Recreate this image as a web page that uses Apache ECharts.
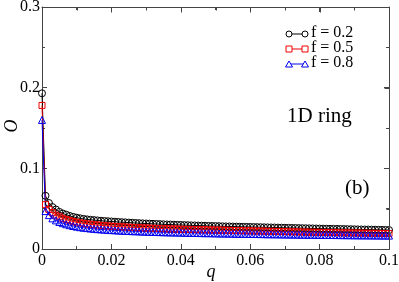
<!DOCTYPE html>
<html><head><meta charset="utf-8">
<script src="https://cdn.jsdelivr.net/npm/echarts@6/dist/echarts.min.js"></script>
<style>html,body{margin:0;padding:0;background:#fff}#c{width:399px;height:282px}</style>
</head><body><div id="c"></div>
<script>
// q values: 0 to 0.1 step 0.001
const qValues = [0,0.001,0.002,0.003,0.004,0.005,0.006,0.007,0.008,0.009,
0.010,0.011,0.012,0.013,0.014,0.015,0.016,0.017,0.018,0.019,
0.020,0.021,0.022,0.023,0.024,0.025,0.026,0.027,0.028,0.029,
0.030,0.031,0.032,0.033,0.034,0.035,0.036,0.037,0.038,0.039,
0.040,0.041,0.042,0.043,0.044,0.045,0.046,0.047,0.048,0.049,
0.050,0.051,0.052,0.053,0.054,0.055,0.056,0.057,0.058,0.059,
0.060,0.061,0.062,0.063,0.064,0.065,0.066,0.067,0.068,0.069,
0.070,0.071,0.072,0.073,0.074,0.075,0.076,0.077,0.078,0.079,
0.080,0.081,0.082,0.083,0.084,0.085,0.086,0.087,0.088,0.089,
0.090,0.091,0.092,0.093,0.094,0.095,0.096,0.097,0.098,0.099,0.100];

const f02 = [0.193,
0.066,0.057,0.052,0.049,0.046,0.044,0.0425,0.041,0.0398,0.0388,
0.0380,0.0373,0.0367,0.0362,0.0358,0.0354,0.0350,0.0347,0.0344,0.0341,
0.0338,0.0335,0.0332,0.0330,0.0327,0.0325,0.0322,0.0320,0.0318,0.0316,
0.0314,0.0312,0.0310,0.0308,0.0306,0.0304,0.0303,0.0301,0.0299,0.0298,
0.0296,0.0295,0.0293,0.0292,0.0290,0.0289,0.0288,0.0286,0.0285,0.0284,
0.0283,0.0281,0.0280,0.0279,0.0278,0.0277,0.0276,0.0275,0.0274,0.0273,
0.0272,0.0271,0.0270,0.0269,0.0268,0.0267,0.0266,0.0265,0.0264,0.0263,
0.0262,0.0261,0.0260,0.0259,0.0258,0.0257,0.0256,0.0255,0.0254,0.0253,
0.0252,0.0251,0.0250,0.0249,0.0249,0.0248,0.0247,0.0246,0.0245,0.0244,
0.0243,0.0242,0.0241,0.0241,0.0240,0.0239,0.0238,0.0237,0.0236,0.0235];

const f05 = [0.178,
0.055,0.049,0.045,0.042,0.040,0.038,0.0365,0.0352,0.0341,0.0332,
0.0324,0.0317,0.0311,0.0306,0.0301,0.0297,0.0293,0.0289,0.0286,0.0283,
0.0280,0.0277,0.0275,0.0272,0.0270,0.0268,0.0266,0.0264,0.0262,0.0260,
0.0258,0.0257,0.0255,0.0254,0.0252,0.0251,0.0249,0.0248,0.0247,0.0245,
0.0244,0.0243,0.0242,0.0241,0.0240,0.0239,0.0238,0.0237,0.0236,0.0235,
0.0234,0.0233,0.0232,0.0231,0.0230,0.0229,0.0228,0.0227,0.0226,0.0225,
0.0224,0.0223,0.0222,0.0221,0.0220,0.0219,0.0218,0.0217,0.0216,0.0215,
0.0214,0.0213,0.0212,0.0211,0.0210,0.0209,0.0208,0.0207,0.0207,0.0206,
0.0205,0.0204,0.0203,0.0203,0.0202,0.0201,0.0200,0.0199,0.0199,0.0198,
0.0197,0.0197,0.0196,0.0195,0.0195,0.0194,0.0193,0.0193,0.0192,0.0191];

const f08 = [0.160,
0.047,0.042,0.038,0.0355,0.0335,0.0320,0.0306,0.0295,0.0285,0.0277,
0.0270,0.0264,0.0259,0.0254,0.0250,0.0246,0.0243,0.0240,0.0237,0.0234,
0.0232,0.0229,0.0227,0.0225,0.0223,0.0221,0.0220,0.0218,0.0216,0.0215,
0.0213,0.0212,0.0211,0.0209,0.0208,0.0207,0.0206,0.0205,0.0204,0.0203,
0.0202,0.0201,0.0200,0.0199,0.0198,0.0197,0.0196,0.0196,0.0195,0.0194,
0.0193,0.0192,0.0192,0.0191,0.0190,0.0189,0.0189,0.0188,0.0187,0.0187,
0.0186,0.0185,0.0185,0.0184,0.0183,0.0183,0.0182,0.0182,0.0181,0.0180,
0.0180,0.0179,0.0179,0.0178,0.0178,0.0177,0.0177,0.0176,0.0176,0.0175,
0.0175,0.0174,0.0174,0.0173,0.0173,0.0172,0.0172,0.0171,0.0171,0.0170,
0.0170,0.0169,0.0169,0.0169,0.0168,0.0168,0.0167,0.0167,0.0167,0.0166];

const seriesNames = ['f = 0.2','f = 0.5','f = 0.8'];
const xTickValues = [0,0.02,0.04,0.06,0.08,0.1];
const xTickText = ['0','0.02','0.04','0.06','0.08','0.1'];
const yTickValues = [0,0.1,0.2,0.3];
const yTickText = ['0','0.1','0.2','0.3'];

const FONT = 'Liberation Serif';
const AX = '#444';
const chart = echarts.init(document.getElementById('c'), null, {renderer:'canvas'});
const pair = arr => qValues.map((q,i)=>[q,arr[i]]);
const tri = 'path://M0,10 L5,0 L10,10 Z';
const labelOf = (vals, texts, v) => { const i = vals.findIndex(t=>Math.abs(t-v)<1e-9); return i<0?'':texts[i]; };

function mkSeries(name, data, color, symbol, size, axisIdx){
  return {name, type:'line', data:pair(data), symbol, symbolSize:size, showAllSymbol:true,
    xAxisIndex:axisIdx, yAxisIndex:axisIdx,
    lineStyle:{color, width:1}, itemStyle:{color:'transparent', borderColor:color, borderWidth:1},
    emphasis:{disabled:true}, animation:false, z:2};
}
function mkX(extra){
  return Object.assign({type:'value', min:0, max:0.1, interval:0.02, splitLine:{show:false},
    axisLine:{show:true, onZero:false, lineStyle:{color:AX, width:1}},
    axisTick:{show:true, inside:true, length:5, lineStyle:{color:AX}},
    minorTick:{show:true, splitNumber:2, length:3, lineStyle:{color:AX}}}, extra);
}
function mkY(extra){
  return Object.assign({type:'value', min:0, max:0.3, interval:0.1, splitLine:{show:false},
    axisLine:{show:true, onZero:false, lineStyle:{color:AX, width:1}},
    axisTick:{show:true, inside:true, length:5, lineStyle:{color:AX}},
    minorTick:{show:true, splitNumber:2, length:3, lineStyle:{color:AX}}}, extra);
}

const legendY = [34, 49, 64];
const legendColors = ['#000','#e00','#00e'];
const graphics = [];
legendY.forEach((y,i)=>{
  const c = legendColors[i];
  graphics.push({type:'line', shape:{x1:289,y1:y,x2:305,y2:y}, style:{stroke:c, lineWidth:1}});
  [289,305].forEach(x=>{
    if(i===0) graphics.push({type:'circle', shape:{cx:x,cy:y,r:3}, style:{stroke:c, fill:'#fff', lineWidth:1}});
    if(i===1) graphics.push({type:'rect', shape:{x:x-3,y:y-3,width:6,height:6}, style:{stroke:c, fill:'#fff', lineWidth:1}});
    if(i===2) graphics.push({type:'polygon', shape:{points:[[x-3.5,y+3],[x,y-3],[x+3.5,y+3]]}, style:{stroke:c, fill:'#fff', lineWidth:1}});
  });
  graphics.push({type:'text', left:311, top:y-9, style:{text:seriesNames[i], font:'16px "Liberation Serif"', fill:'#000'}});
});
graphics.push({type:'text', left:287, top:106, style:{text:'1D ring', font:'21px "Liberation Serif"', fill:'#000'}});
graphics.push({type:'text', left:345, top:178, style:{text:'(b)', font:'21px "Liberation Serif"', fill:'#000'}});
graphics.push({type:'text', x:211, y:272, style:{text:'q', font:'italic 18px "Liberation Serif"', fill:'#000', align:'center', verticalAlign:'middle'}});
graphics.push({type:'text', x:12, y:126, rotation:Math.PI/2, style:{text:'O', font:'italic 18px "Liberation Serif"', fill:'#000', align:'center', verticalAlign:'middle'}});

chart.setOption({
  animation:false,
  backgroundColor:'#fff',
  grid:{left:42, right:10, top:7, bottom:33, outerBoundsMode:'none'},
  xAxis:[
    mkX({position:'bottom',
      axisLabel:{fontFamily:FONT, fontSize:16, color:'#000', margin:4,
        formatter:v=>labelOf(xTickValues, xTickText, v)}}),
    mkX({position:'top', axisLabel:{show:false}})
  ],
  yAxis:[
    mkY({position:'left',
      axisLabel:{fontFamily:FONT, fontSize:16, color:'#000', margin:2,
        formatter:v=>labelOf(yTickValues, yTickText, v)}}),
    mkY({position:'right', axisLabel:{show:false}})
  ],
  series:[
    mkSeries(seriesNames[0], f02, '#000', 'circle', 7, 0),
    mkSeries(seriesNames[1], f05, '#e00', 'rect', 6, 1),
    mkSeries(seriesNames[2], f08, '#00e', tri, 7, 0)
  ],
  graphic:graphics
});

// Mirrored frame (top and right edges with inward ticks), positioned through the chart's own scales
const frame = [];
const px = (x,y) => chart.convertToPixel({gridIndex:0}, [x,y]);
const tl = px(0,0.3), br = px(0.1,0);
const L = Math.round(tl[0])+0.5, T = Math.round(tl[1])+0.5, R = Math.round(br[0])+0.5, B = Math.round(br[1])+0.5;
frame.push({type:'line', z:10, shape:{x1:L,y1:T,x2:R,y2:T}, style:{stroke:AX, lineWidth:1}});
frame.push({type:'line', z:10, shape:{x1:R,y1:T,x2:R,y2:B}, style:{stroke:AX, lineWidth:1}});
xTickValues.forEach((v,i)=>{
  const x = Math.round(px(v,0)[0])+0.5;
  frame.push({type:'line', z:10, shape:{x1:x,y1:T,x2:x,y2:T+5}, style:{stroke:AX, lineWidth:1}});
  if(i<xTickValues.length-1){
    const xm = Math.round(px((v+xTickValues[i+1])/2,0)[0])+0.5;
    frame.push({type:'line', z:10, shape:{x1:xm,y1:T,x2:xm,y2:T+3}, style:{stroke:AX, lineWidth:1}});
  }
});
yTickValues.forEach((v,i)=>{
  const y = Math.round(px(0,v)[1])+0.5;
  frame.push({type:'line', z:10, shape:{x1:R,y1:y,x2:R-5,y2:y}, style:{stroke:AX, lineWidth:1}});
  if(i<yTickValues.length-1){
    const ym = Math.round(px(0,(v+yTickValues[i+1])/2)[1])+0.5;
    frame.push({type:'line', z:10, shape:{x1:R,y1:ym,x2:R-3,y2:ym}, style:{stroke:AX, lineWidth:1}});
  }
});
chart.setOption({graphic: graphics.concat(frame)});
</script></body></html>
